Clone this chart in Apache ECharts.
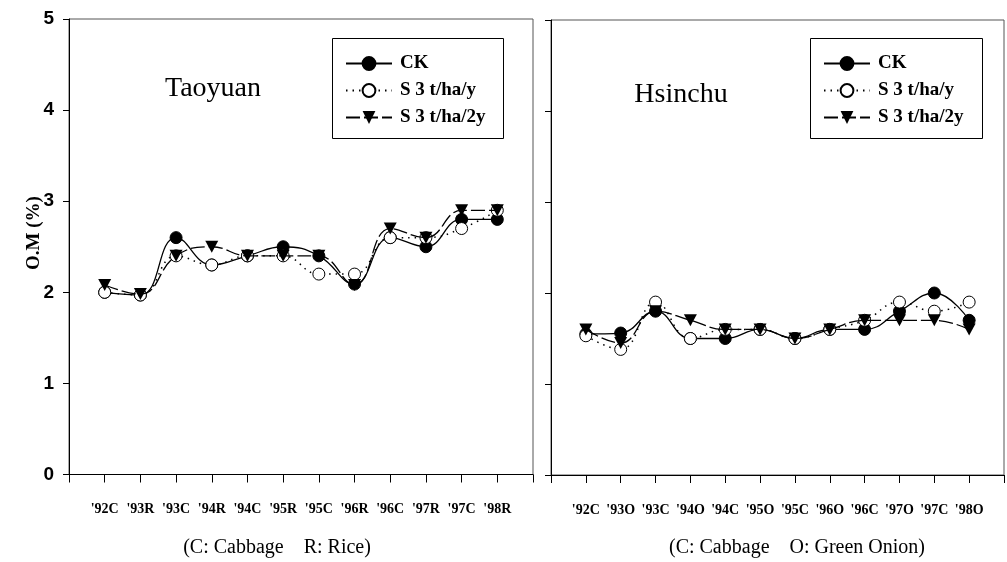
<!DOCTYPE html>
<html>
<head>
<meta charset="utf-8">
<script src="https://cdn.jsdelivr.net/npm/echarts@6/dist/echarts.min.js"></script>
<style>
  html, body { margin: 0; padding: 0; background: #fff; }
  #chart { width: 1007px; height: 562px; }
</style>
</head>
<body>
<div id="chart"></div>
<script>
// Crop seasons (C: cabbage, R: rice, O: green onion)
const taoyuanSeasons = ["'92C", "'93R", "'93C", "'94R", "'94C", "'95R", "'95C", "'96R", "'96C", "'97R", "'97C", "'98R"];
const hsinchuSeasons = ["'92C", "'93O", "'93C", "'94O", "'94C", "'95O", "'95C", "'96O", "'96C", "'97O", "'97C", "'98O"];

// Soil organic matter, O.M (%)
const taoyuanCK   = [2.00, 1.97, 2.60, 2.30, 2.40, 2.50, 2.40, 2.09, 2.60, 2.50, 2.80, 2.80];
const taoyuanS3y  = [2.00, 1.97, 2.40, 2.30, 2.40, 2.40, 2.20, 2.20, 2.60, 2.60, 2.70, 2.90];
const taoyuanS32y = [2.08, 1.98, 2.40, 2.50, 2.40, 2.40, 2.40, 2.08, 2.70, 2.60, 2.90, 2.90];

const hsinchuCK   = [1.55, 1.56, 1.80, 1.50, 1.50, 1.60, 1.50, 1.60, 1.60, 1.80, 2.00, 1.70];
const hsinchuS3y  = [1.53, 1.38, 1.90, 1.50, 1.60, 1.60, 1.50, 1.60, 1.70, 1.90, 1.80, 1.90];
const hsinchuS32y = [1.60, 1.45, 1.80, 1.70, 1.60, 1.60, 1.50, 1.60, 1.70, 1.70, 1.70, 1.60];

const yTicks = [0, 1, 2, 3, 4, 5];
const seriesNames = ['CK', 'S 3 t/ha/y', 'S 3 t/ha/2y'];

const SERIF = 'Liberation Serif, Times New Roman, serif';
const SANS = 'Liberation Sans, Arial, sans-serif';

// one empty slot at each end so the seasons sit on inner ticks
const pad = arr => [null].concat(arr, [null]);
const padCats = arr => [''].concat(arr, ['']);

const styles = [
  { symbol: 'circle', symbolSize: 12, symbolRotate: 0,
    itemStyle: { color: '#000', borderColor: '#000', borderWidth: 1 },
    lineStyle: { color: '#000', width: 1.3, type: 'solid' } },
  { symbol: 'circle', symbolSize: 12, symbolRotate: 0,
    itemStyle: { color: '#fff', borderColor: '#000', borderWidth: 1 },
    lineStyle: { color: '#000', width: 1.5, type: [1.5, 5] } },
  { symbol: 'triangle', symbolSize: [13, 12], symbolRotate: 180,
    itemStyle: { color: '#000', borderColor: '#000', borderWidth: 0 },
    lineStyle: { color: '#000', width: 1.3, type: [14, 4] } }
];

function makeSeries(values, idx, axisIdx) {
  const s = styles[idx];
  return {
    type: 'line',
    name: seriesNames[idx],
    xAxisIndex: axisIdx,
    yAxisIndex: axisIdx,
    data: pad(values),
    smooth: 0.45,
    symbol: s.symbol,
    symbolSize: s.symbolSize,
    symbolRotate: s.symbolRotate,
    showAllSymbol: true,
    itemStyle: s.itemStyle,
    lineStyle: s.lineStyle,
    emphasis: { disabled: true },
    animation: false,
    z: 2 + idx
  };
}

function xAxis(gridIndex, cats) {
  return {
    type: 'category',
    gridIndex: gridIndex,
    data: padCats(cats),
    boundaryGap: false,
    axisLine: { lineStyle: { color: '#000', width: 1 } },
    axisTick: { show: true, length: 8, interval: 0, lineStyle: { color: '#000' } },
    axisLabel: {
      interval: 0, margin: 28, color: '#000',
      fontFamily: SERIF, fontWeight: 'bold', fontSize: 14
    },
    splitLine: { show: false }
  };
}

function yAxis(gridIndex, showLabels) {
  return {
    type: 'value',
    gridIndex: gridIndex,
    min: yTicks[0],
    max: yTicks[yTicks.length - 1],
    interval: 1,
    axisLine: { show: true, lineStyle: { color: '#000', width: 1 } },
    axisTick: { show: true, length: 6, lineStyle: { color: '#000' } },
    axisLabel: {
      show: showLabels, margin: 15, color: '#000',
      fontFamily: SANS, fontWeight: 'bold', fontSize: 19
    },
    splitLine: { show: false }
  };
}

function legend(left) {
  return {
    orient: 'vertical',
    left: left,
    top: 54,
    itemWidth: 46,
    itemHeight: 16,
    itemGap: 8,
    padding: 0,
    selectedMode: false,
    data: seriesNames,
    textStyle: {
      color: '#000', fontFamily: SERIF, fontWeight: 'bold',
      fontSize: 19, lineHeight: 19, padding: [0, 0, 0, 3]
    }
  };
}

const chart = echarts.init(document.getElementById('chart'), null, { renderer: 'canvas' });

chart.setOption({
  backgroundColor: '#fff',
  animation: false,
  grid: [
    { left: 69, top: 19, width: 464, height: 455.5, show: true, borderColor: '#555', borderWidth: 1, backgroundColor: 'transparent' },
    { left: 551, top: 20, width: 458, height: 455, show: true, borderColor: '#555', borderWidth: 1, backgroundColor: 'transparent' }
  ],
  xAxis: [xAxis(0, taoyuanSeasons), xAxis(1, hsinchuSeasons)],
  yAxis: [yAxis(0, true), yAxis(1, false)],
  legend: [legend(345), legend(823)],
  series: [
    makeSeries(taoyuanCK, 0, 0),
    makeSeries(taoyuanS3y, 1, 0),
    makeSeries(taoyuanS32y, 2, 0),
    makeSeries(hsinchuCK, 0, 1),
    makeSeries(hsinchuS3y, 1, 1),
    makeSeries(hsinchuS32y, 2, 1)
  ],
  graphic: [
    // legend frames
    { type: 'rect', shape: { x: 332.5, y: 38.5, width: 171, height: 100 },
      style: { fill: 'none', stroke: '#000', lineWidth: 1 }, z: 1 },
    { type: 'rect', shape: { x: 810.5, y: 38.5, width: 172, height: 100 },
      style: { fill: 'none', stroke: '#000', lineWidth: 1 }, z: 1 },
    // site titles
    { type: 'text', x: 213, y: 89,
      style: { text: 'Taoyuan', fill: '#000', font: 'normal 28px ' + SERIF, textAlign: 'center', textVerticalAlign: 'middle' } },
    { type: 'text', x: 681, y: 95,
      style: { text: 'Hsinchu', fill: '#000', font: 'normal 28px ' + SERIF, textAlign: 'center', textVerticalAlign: 'middle' } },
    // crop keys under each axis
    { type: 'text', x: 277, y: 548,
      style: { text: '(C: Cabbage    R: Rice)', fill: '#000', font: 'normal 20px ' + SERIF, textAlign: 'center', textVerticalAlign: 'middle' } },
    { type: 'text', x: 797, y: 548,
      style: { text: '(C: Cabbage    O: Green Onion)', fill: '#000', font: 'normal 20px ' + SERIF, textAlign: 'center', textVerticalAlign: 'middle' } },
    // y-axis title
    { type: 'text', x: 34, y: 233, rotation: Math.PI / 2,
      style: { text: 'O.M (%)', fill: '#000', font: 'bold 19px ' + SERIF, textAlign: 'center', textVerticalAlign: 'middle' } }
  ]
});
</script>
</body>
</html>
